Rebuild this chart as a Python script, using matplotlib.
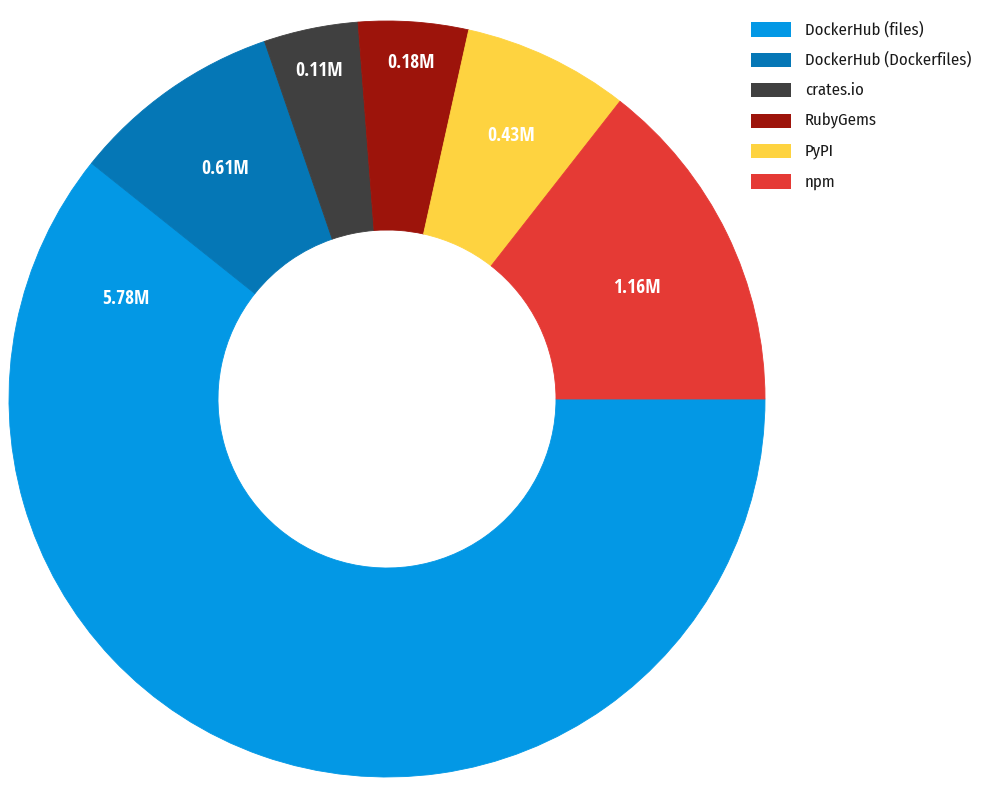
import numpy as np
import matplotlib
matplotlib.use("Agg")
import matplotlib.pyplot as plt
import matplotlib.font_manager as fm
from matplotlib.patches import Rectangle

# ---- data ----
categories = ["DockerHub (files)", "DockerHub (Dockerfiles)", "crates.io",
              "RubyGems", "PyPI", "npm"]
values_m = [5.78, 0.61, 0.11, 0.18, 0.43, 1.16]          # shown labels (millions)
slice_share = [0.6072, 0.0903, 0.0403, 0.0469, 0.0710, 0.1443]  # angular share
colors = ["#0398E5", "#0577B6", "#404040", "#9D140B", "#FED340", "#E53A35"]

# ---- font choice ----
names = {f.name for f in fm.fontManager.ttflist}


def pick(cands):
    for c in cands:
        if c in names:
            return [c, "DejaVu Sans"]
    return ["DejaVu Sans"]


label_family = pick(["Open Sans Condensed", "Fira Sans Condensed", "Roboto Condensed", "Open Sans"])
legend_family = pick(["Fira Sans Condensed", "Roboto Condensed", "Liberation Sans Narrow", "Open Sans"])
plt.rcParams["font.family"] = label_family

W, H = 988, 797
fig = plt.figure(figsize=(W / 100, H / 100), dpi=100)
cx, cy, R, r_in = 387, 399, 378, 169
ax = fig.add_axes([(cx - R) / W, (H - cy - R) / H, 2 * R / W, 2 * R / H])

wedges, _ = ax.pie(slice_share, colors=colors, startangle=0, counterclock=False,
                   radius=1.0,
                   wedgeprops=dict(width=(R - r_in) / R, linewidth=0.6))
for w, c in zip(wedges, colors):
    w.set_edgecolor(c)
ax.set_xlim(-1, 1)
ax.set_ylim(-1, 1)
ax.set_aspect("equal")
ax.axis("off")

# label placement: radius fraction per slice, optional angle override
label_r = [0.74, 0.745, 0.885, 0.89, 0.77, 0.725]
angle_override = {0: 159.0, 5: 24.0}
for i, w in enumerate(wedges):
    th = angle_override.get(i, (w.theta1 + w.theta2) / 2.0)
    t = np.deg2rad(th)
    ax.text(label_r[i] * np.cos(t), label_r[i] * np.sin(t), f"{values_m[i]:.2f}M",
            ha="center", va="center", color="white", fontsize=14, fontweight="bold",
            family=label_family)

# legend (drawn in figure pixel space)
lx, lw, lh = 751, 40, 14
ty0, dy = 29.5, 30.4
for i, (lab, col) in enumerate(zip(categories, colors)):
    yc = ty0 + i * dy
    fig.add_artist(Rectangle((lx / W, (H - yc - lh / 2) / H), lw / W, lh / H,
                             transform=fig.transFigure, facecolor=col, edgecolor="none"))
    fig.text(805 / W, (H - yc) / H, lab, ha="left", va="center", fontsize=12,
             color="#1a1a1a", fontweight="normal", family=legend_family)

fig.savefig("out.png", dpi=100)
